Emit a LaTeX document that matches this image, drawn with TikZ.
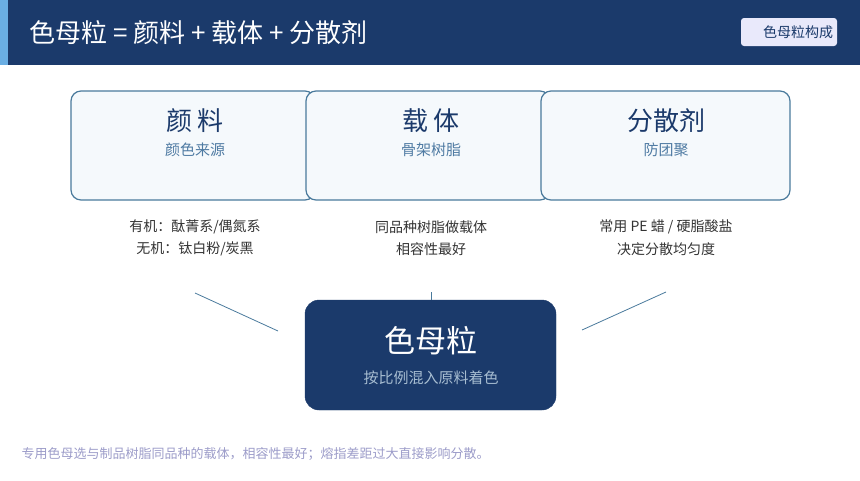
\documentclass[tikz,border=0pt]{standalone}
\usepackage{fontspec}
\newfontfamily\cjk{Noto Sans CJK SC}
\usetikzlibrary{positioning}
\definecolor{navy}{HTML}{1B3A6B}
\definecolor{edgeblue}{HTML}{4A7A9C}
\definecolor{boxfill}{HTML}{F5F9FC}
\definecolor{subblue}{HTML}{4F7BA3}
\definecolor{textgray}{HTML}{333333}
\begin{document}
\begin{tikzpicture}[x=1pt,y=-1pt,font=\cjk,
  part/.style={draw=edgeblue,line width=1.2pt,fill=boxfill,rounded corners=10pt},
  link/.style={draw=edgeblue,line width=0.8pt}]
    \useasboundingbox (0,0) rectangle (860,480);

    % header
    \fill[navy] (0,0) rectangle (860,65);
    \fill[cyan!70!blue!60] (0,0) rectangle (8,65);
    \node[anchor=west,text=white,font=\cjk\fontsize{26}{30}\selectfont] (title) at (26,33) {色母粒 = 颜料 + 载体 + 分散剂};
    \fill[gray!30!blue!10!white,rounded corners=3pt] (741,18) rectangle (837,46);
    \node[text=navy,font=\cjk\fontsize{14}{16}\selectfont] (badge) at (798,32) {色母粒构成};

    % define the parts
    \draw[part] (71,91) rectangle (315,200);
    \draw[part] (306,91) rectangle (550,200);
    \draw[part] (541,91) rectangle (790,200);
    \foreach \x/\name/\head/\sub/\la/\lb in {
        195/pig/颜\,料/颜色来源/{有机：酞菁系/偶氮系}/{无机：钛白粉/炭黑},
        431/car/载\,体/骨架树脂/同品种树脂做载体/相容性最好,
        666/dis/分散剂/防团聚/{常用 PE 蜡 / 硬脂酸盐}/决定分散均匀度} {
      \node[text=navy,font=\cjk\fontsize{26}{30}\selectfont] (\name) at (\x,121) {\head};
      \node[text=subblue,font=\cjk\fontsize{15}{18}\selectfont] (\name sub) at (\x,150) {\sub};
      \node[text=textgray,font=\cjk\fontsize{14}{16}\selectfont] (\name a) at (\x,227) {\la};
      \node[text=textgray,font=\cjk\fontsize{14}{16}\selectfont] (\name b) at (\x,249) {\lb};
    }

    % the result
    \draw[navy,fill=navy,rounded corners=14pt] (305,300) rectangle (556,410);
    \node[text=white,font=\cjk\fontsize{31}{36}\selectfont] (mb) at (431,341) {色母粒};
    \node[text=subblue!50!white,font=\cjk\fontsize{15}{18}\selectfont] (mbsub) at (431,378) {按比例混入原料着色};

    % define the links
    \coordinate (l1a) at (195,293); \coordinate (l1b) at (278,331);
    \coordinate (l2a) at (431,292); \coordinate (l2b) at (431,300);
    \coordinate (l3a) at (666,292); \coordinate (l3b) at (582,330);
    \draw[link] (l1a) -- (l1b);
    \draw[link] (l2a) -- (l2b);
    \draw[link] (l3a) -- (l3b);

    \node[anchor=west,text=gray!70!blue!60,font=\cjk\fontsize{13}{15}\selectfont] (note) at (18,454)
      {专用色母选与制品树脂同品种的载体，相容性最好；熔指差距过大直接影响分散。};
\end{tikzpicture}
\end{document}
